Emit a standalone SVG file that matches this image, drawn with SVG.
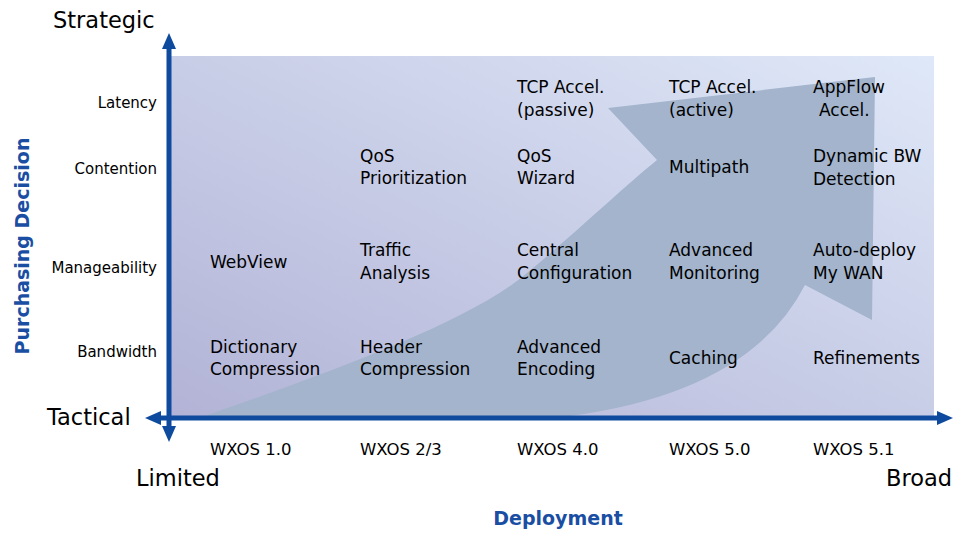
<svg xmlns="http://www.w3.org/2000/svg" width="956" height="533" viewBox="0 0 956 533">
<style>
text{font-family:"DejaVu Sans","Liberation Sans",sans-serif;fill:#000}
.cell{font-size:17px}
.row{font-size:15px;text-anchor:end}
.ver{font-size:16.5px}
.big{font-size:22.5px}
.title{font-size:19px;font-weight:bold;fill:#1a4ea3}
.axis{stroke:#0e4a9e;stroke-width:5;fill:none}
</style>
<defs>
<linearGradient id="bg" x1="0" y1="1" x2="1" y2="0">
<stop offset="0" stop-color="#b2b3d6"/>
<stop offset="1" stop-color="#dfe8f8"/>
</linearGradient>
<marker id="ah" viewBox="0 0 16 14" refX="4" refY="7" markerWidth="16" markerHeight="14" markerUnits="userSpaceOnUse" orient="auto-start-reverse">
<path d="M0,0 L16,7 L0,14 z" fill="#0e4a9e"/>
</marker>
</defs>
<g id="background">
<rect x="171" y="56" width="763" height="361" fill="url(#bg)"/>
<path d="M205,416 C330,372 470,322 527,273 C570,238 620,190 657,160 L608,108 L875,77 L872,320 L805,285 Q750,392 570,416 Z" fill="#a3b4cc"/>
</g>
<g id="axes">
<line class="axis" x1="169" y1="45" x2="169" y2="430" marker-start="url(#ah)" marker-end="url(#ah)"/>
<line class="axis" x1="157" y1="418" x2="941" y2="418" marker-start="url(#ah)" marker-end="url(#ah)"/>
</g>
<g id="axis-labels">
<text class="big" x="53" y="28">Strategic</text>
<text class="big" x="47" y="425">Tactical</text>
<text class="big" x="136" y="486">Limited</text>
<text class="big" x="952" y="486" text-anchor="end">Broad</text>
<text class="title" x="558" y="525" text-anchor="middle">Deployment</text>
<text class="title" transform="translate(29,246) rotate(-90)" text-anchor="middle">Purchasing Decision</text>
</g>
<g id="row-labels">
<text class="row" x="157" y="108">Latency</text>
<text class="row" x="157" y="174">Contention</text>
<text class="row" x="157" y="273">Manageability</text>
<text class="row" x="157" y="357">Bandwidth</text>
</g>
<g id="versions">
<text class="ver" x="210" y="455">WXOS 1.0</text>
<text class="ver" x="360" y="455">WXOS 2/3</text>
<text class="ver" x="517" y="455">WXOS 4.0</text>
<text class="ver" x="669" y="455">WXOS 5.0</text>
<text class="ver" x="813" y="455">WXOS 5.1</text>
</g>
<g id="latency">
<g id="tcp-passive"><text class="cell" x="517" y="93">TCP Accel.</text><text class="cell" x="517" y="116">(passive)</text></g>
<g id="tcp-active"><text class="cell" x="669" y="93">TCP Accel.</text><text class="cell" x="669" y="116">(active)</text></g>
<g id="appflow"><text class="cell" x="813" y="93">AppFlow</text><text class="cell" x="819" y="116">Accel.</text></g>
</g>
<g id="contention">
<g id="qos-prio"><text class="cell" x="360" y="162">QoS</text><text class="cell" x="360" y="184">Prioritization</text></g>
<g id="qos-wizard"><text class="cell" x="517" y="162">QoS</text><text class="cell" x="517" y="184">Wizard</text></g>
<g id="multipath"><text class="cell" x="669" y="173">Multipath</text></g>
<g id="dynbw"><text class="cell" x="813" y="162">Dynamic BW</text><text class="cell" x="813" y="185">Detection</text></g>
</g>
<g id="manageability">
<g id="webview"><text class="cell" x="210" y="268">WebView</text></g>
<g id="traffic"><text class="cell" x="360" y="256">Traffic</text><text class="cell" x="360" y="279">Analysis</text></g>
<g id="central"><text class="cell" x="517" y="256">Central</text><text class="cell" x="517" y="279">Configuration</text></g>
<g id="advmon"><text class="cell" x="669" y="256">Advanced</text><text class="cell" x="669" y="279">Monitoring</text></g>
<g id="autodeploy"><text class="cell" x="813" y="256">Auto-deploy</text><text class="cell" x="813" y="279">My WAN</text></g>
</g>
<g id="bandwidth">
<g id="dict"><text class="cell" x="210" y="353">Dictionary</text><text class="cell" x="210" y="375">Compression</text></g>
<g id="header"><text class="cell" x="360" y="353">Header</text><text class="cell" x="360" y="375">Compression</text></g>
<g id="advenc"><text class="cell" x="517" y="353">Advanced</text><text class="cell" x="517" y="375">Encoding</text></g>
<g id="caching"><text class="cell" x="669" y="364">Caching</text></g>
<g id="refine"><text class="cell" x="813" y="364">Refinements</text></g>
</g>
</svg>
